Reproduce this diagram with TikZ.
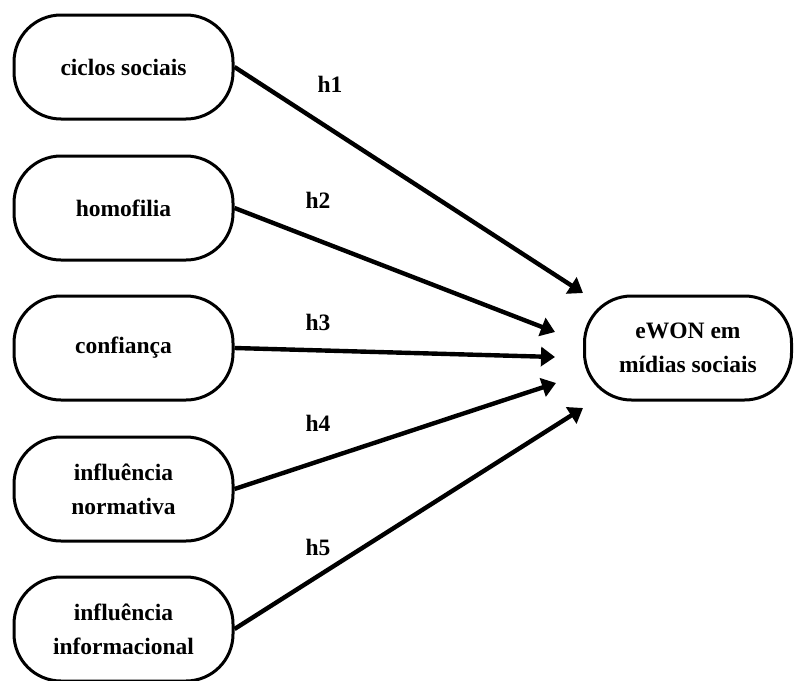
\documentclass[tikz,border=0pt]{standalone}
\usepackage{fontspec}
\setmainfont{Liberation Serif}
\usetikzlibrary{arrows.meta}

\begin{document}
\begin{tikzpicture}[x=1pt,y=-1pt,
        construct/.style={draw,line width=3pt,rounded corners=47pt,
            minimum width=219pt,minimum height=104pt,inner sep=0pt,align=center,
            font=\fontsize{23.5}{34}\selectfont\bfseries},
        hyp/.style={line width=4.4pt,-{Triangle[length=14pt,width=19pt]}},
        hlabel/.style={font=\fontsize{23.5}{28}\selectfont\bfseries}]
    \useasboundingbox (0,0) rectangle (795,680);

    % Draw constructs
    \foreach \i/\y/\txt in {1/67/ciclos sociais, 2/208/homofilia, 3/348/confiança,
            4/489/{influência\\normativa}, 5/629/{influência\\informacional}}
       {
            \node[construct] (c\i) at (123.5,\y) {\txt};
       }
    \node[construct,minimum width=207pt] (ewon) at (688,348) {eWON em\\mídias sociais};

    % arrow tips
    \coordinate (t1) at (583,293);
    \coordinate (t2) at (555,332);
    \coordinate (t3) at (555,357);
    \coordinate (t4) at (556,383);
    \coordinate (t5) at (583,408);

    \foreach \i in {1,...,5}
       {
            \draw[hyp] (c\i.east) -- (t\i);
       }

    \node[hlabel] (h1) at (330,84) {h1};
    \node[hlabel] (h2) at (318,200) {h2};
    \node[hlabel] (h3) at (318,322) {h3};
    \node[hlabel] (h4) at (318,423) {h4};
    \node[hlabel] (h5) at (318,547) {h5};
\end{tikzpicture}
\end{document}
